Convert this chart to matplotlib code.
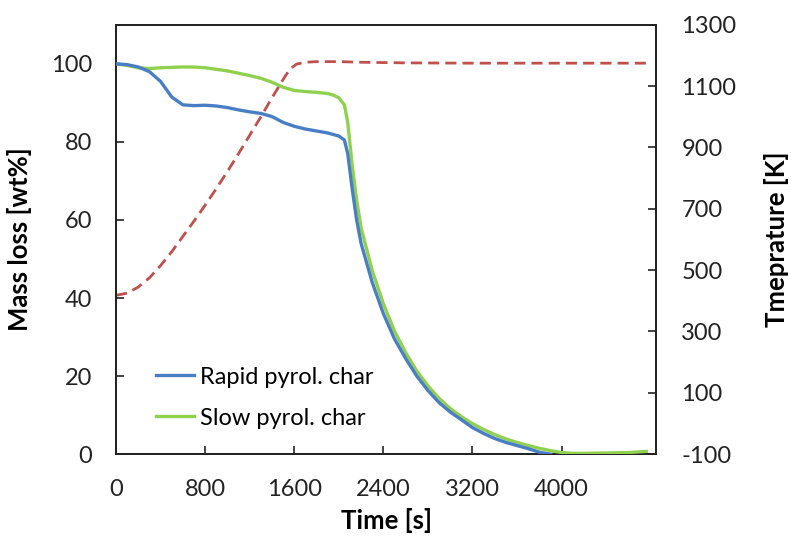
import matplotlib
matplotlib.use("Agg")
import matplotlib.pyplot as plt
import numpy as np

plt.rcParams['font.family'] = ['Lato', 'DejaVu Sans']
plt.rcParams['axes.unicode_minus'] = False

# Rapid pyrolysis char mass (wt%)
rapid_t = [0, 100, 200, 300, 400, 500, 600, 700, 800, 900, 1000, 1100, 1200, 1300, 1400, 1500,
           1600, 1700, 1800, 1900, 2000, 2050, 2080, 2120, 2160, 2200, 2300, 2400, 2500, 2600,
           2700, 2800, 2900, 3000, 3100, 3200, 3300, 3400, 3500, 3600, 3700, 3800, 3900]
rapid_m = [100, 99.8, 99.2, 98, 95.5, 91.5, 89.5, 89.3, 89.4, 89.2, 88.8, 88.2, 87.7, 87.3, 86.5, 85,
           84, 83.3, 82.8, 82.3, 81.5, 80.5, 77, 68, 60, 54, 44, 36, 29.5, 24.5,
           20, 16.3, 13.2, 10.8, 8.8, 6.8, 5.3, 4.0, 3.0, 2.2, 1.4, 0.5, 0.0]

# Slow pyrolysis char mass (wt%)
slow_t = [0, 100, 200, 300, 400, 500, 600, 700, 800, 900, 1000, 1100, 1200, 1300, 1400, 1500,
          1600, 1700, 1800, 1900, 1950, 2000, 2050, 2080, 2120, 2160, 2200, 2300, 2400, 2500, 2600,
          2700, 2800, 2900, 3000, 3100, 3200, 3300, 3400, 3500, 3600, 3700, 3800, 3900, 4000,
          4100, 4200, 4400, 4600, 4760]
slow_m = [100, 99.6, 99.0, 98.8, 99.0, 99.1, 99.2, 99.2, 99.0, 98.6, 98.2, 97.6, 97.0, 96.3, 95.3, 94.0,
          93.2, 92.9, 92.7, 92.4, 92.0, 91.3, 89.5, 85, 74, 65, 58, 47, 38.5, 31.5, 26,
          21.3, 17.5, 14.3, 11.7, 9.6, 7.8, 6.3, 5.0, 3.9, 3.0, 2.2, 1.5, 0.9, 0.4,
          0.2, 0.2, 0.3, 0.4, 0.7]

# Temperature (K)
temp_t = [0, 100, 200, 300, 400, 500, 600, 700, 800, 900, 1000, 1100, 1200, 1300, 1400, 1500,
          1560, 1620, 1700, 1800, 2000, 2200, 2600, 3200, 4000, 4760]
temp_k = [418, 425, 445, 475, 515, 560, 610, 660, 712, 766, 822, 880, 940, 1000, 1062, 1122,
          1155, 1172, 1178, 1180, 1180, 1178, 1176, 1175, 1175, 1175]

x_ticks = [0, 800, 1600, 2400, 3200, 4000]
y_ticks = [0, 20, 40, 60, 80, 100]
y2_ticks = [-100, 100, 300, 500, 700, 900, 1100, 1300]

fig = plt.figure(figsize=(7.91, 5.40), dpi=100)
ax = fig.add_axes([0.1467, 0.159, 0.683, 0.795])
ax2 = ax.twinx()

blue = '#4A7EC4'
green = '#8FD14F'
red = '#C0504D'

ax2.plot(temp_t, temp_k, color=red, lw=2.0, ls=(0, (4, 2.2)))
ax.plot(slow_t, slow_m, color=green, lw=2.4, label='Slow pyrol. char', zorder=3)
ax.plot(rapid_t, rapid_m, color=blue, lw=2.4, label='Rapid pyrol. char', zorder=4)
ax.set_zorder(ax2.get_zorder() + 1)
ax.patch.set_visible(False)

ax.set_xlim(0, 4850)
ax.set_ylim(0, 110)
ax2.set_ylim(-100, 1300)
ax.set_xticks(x_ticks)
ax.set_yticks(y_ticks)
ax2.set_yticks(y2_ticks)

for a in (ax, ax2):
    a.tick_params(direction='in', length=6, width=1.2, labelsize=17, colors='#222222')
    for s in a.spines.values():
        s.set_linewidth(1.3)
        s.set_color('#222222')
ax.tick_params(axis='x', pad=18)
ax.tick_params(axis='y', pad=17)
ax2.tick_params(axis='y', pad=18)

ax.set_xlabel('Time [s]', fontsize=18.5, fontweight='bold', labelpad=6)
ax.set_ylabel('Mass loss [wt%]', fontsize=18.5, fontweight='bold', labelpad=14)
ax2.set_ylabel('Tmeprature [K]', fontsize=18.5, fontweight='bold', labelpad=20)

h, l = ax.get_legend_handles_labels()
ax.legend(h[::-1], l[::-1], loc='lower left', bbox_to_anchor=(0.035, 0.01), frameon=False,
          fontsize=17, handlelength=1.6, handletextpad=0.25, labelspacing=0.85)

fig.savefig('out.png', dpi=100)
